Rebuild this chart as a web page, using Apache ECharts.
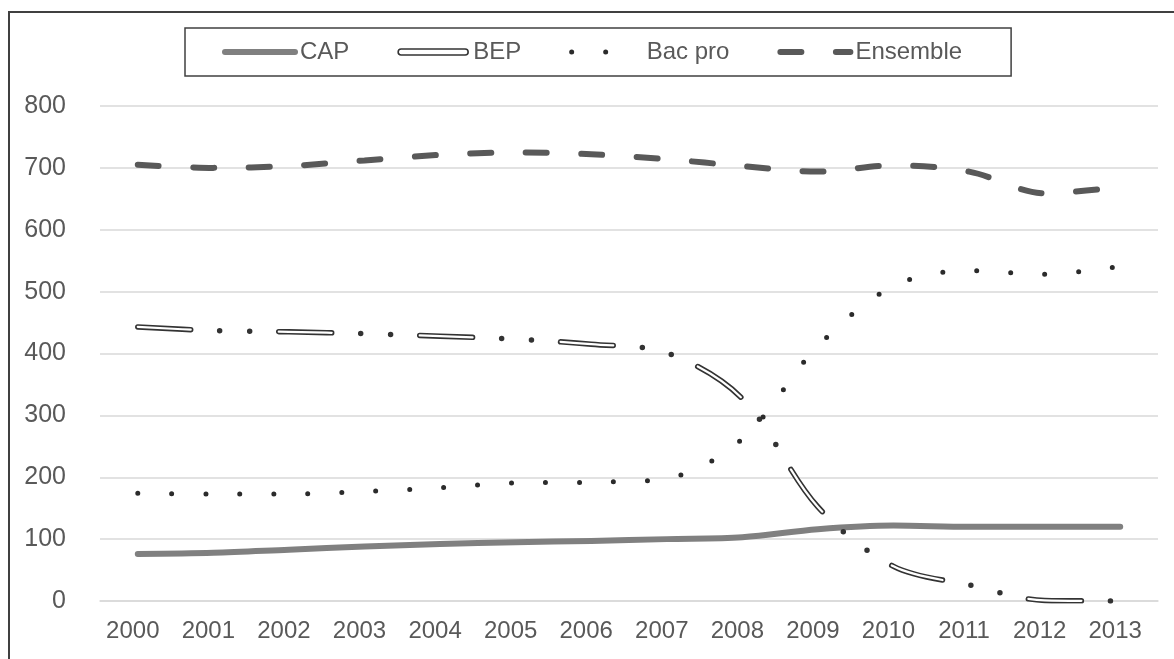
<!DOCTYPE html>
<html>
<head>
<meta charset="utf-8">
<script src="https://cdn.jsdelivr.net/npm/echarts@6/dist/echarts.min.js"></script>
<style>
html,body{margin:0;padding:0;background:#fff;}
#c{width:1174px;height:659px;}
</style>
</head>
<body>
<div id="c"></div>
<script>
var years = ['2000','2001','2002','2003','2004','2005','2006','2007','2008','2009','2010','2011','2012','2013'];
var cap = [76, 78, 83, 88, 92, 95, 97, 100, 103, 116, 122, 120, 120, 120];
var bep = [443, 437, 435, 432, 428, 423, 415, 401, 327, 152, 56, 26, 1, 0];
var bacpro = [174, 173, 173, 177, 183, 191, 192, 198, 262, 412, 509, 534, 528, 541];
var ensemble = [705, 700, 703, 712, 721, 725, 722, 714, 703, 694, 704, 694, 659, 669];
var yTicks = [0, 100, 200, 300, 400, 500, 600, 700, 800];

var FONT = "'Liberation Sans','Arial',sans-serif";
var TXT = '#595959';
var SM = 0.33;

var chart = echarts.init(document.getElementById('c'), null, {renderer:'canvas'});
chart.setOption({
  animation: false,
  backgroundColor: '#fff',
  graphic: [{
    type: 'rect', z: -10, silent: true,
    shape: {x: 9, y: 12, width: 1200, height: 700},
    style: {fill: 'none', stroke: '#404040', lineWidth: 2}
  }],
  legend: {
    left: 185, top: 28,
    padding: [9, 49, 9, 37],
    borderColor: '#404040', borderWidth: 1.5,
    itemWidth: 70, itemHeight: 14, itemGap: 48,
    selectedMode: false,
    itemStyle: {opacity: 0},
    textStyle: {fontFamily: FONT, fontSize: 24, color: TXT, lineHeight: 30},
    data: [
      {name: 'CAP', lineStyle: {color: '#808080', width: 6, cap: 'round', type: 'solid'}},
      {name: 'BEP', icon: 'path://M3,0 L67,0 A3,3 0 0 1 67,6 L3,6 A3,3 0 0 1 3,0 Z',
        itemStyle: {opacity: 1, color: '#ffffff', borderColor: '#333333', borderWidth: 1.6}},
      {name: 'Bac pro', lineStyle: {color: '#2b2b2b', width: 5, cap: 'round', type: [0, 34, 0, 200]}},
      {name: 'Ensemble', lineStyle: {color: '#595959', width: 6, cap: 'round', type: [21, 34.5]}}
    ]
  },
  grid: {left: 100, right: 16, top: 106, bottom: 58, containLabel: false},
  xAxis: {
    type: 'category', data: years, boundaryGap: true,
    axisLine: {lineStyle: {color: '#d9d9d9', width: 1.5}},
    axisTick: {show: false},
    axisLabel: {interval: 0, fontFamily: FONT, fontSize: 24, color: TXT, margin: 18, padding: [0, 10, 0, 0]}
  },
  yAxis: {
    type: 'value', min: yTicks[0], max: yTicks[yTicks.length - 1], interval: 100,
    axisLine: {show: false}, axisTick: {show: false},
    splitLine: {lineStyle: {color: '#d9d9d9', width: 1.5}},
    axisLabel: {fontFamily: FONT, fontSize: 25, color: TXT, margin: 34}
  },
  series: [
    {name: 'CAP', type: 'line', data: cap, smooth: SM, symbol: 'none', z: 2,
      lineStyle: {color: '#808080', width: 6, cap: 'round', join: 'round'}, itemStyle: {color: '#808080'}},
    {name: 'BEP', type: 'line', data: bep, smooth: SM, symbol: 'none', z: 3,
      lineStyle: {color: '#333333', width: 5.5, cap: 'round', join: 'round', type: [53, 29, 0, 30, 0, 29]},
      itemStyle: {color: '#333333'}},
    {name: 'BEP_inner', type: 'line', data: bep, smooth: SM, symbol: 'none', z: 4,
      lineStyle: {color: '#ffffff', width: 2.2, cap: 'round', join: 'round', type: [53, 88]},
      itemStyle: {color: '#ffffff'}},
    {name: 'Bac pro', type: 'line', data: bacpro, smooth: SM, symbol: 'none', z: 5,
      lineStyle: {color: '#2b2b2b', width: 5, cap: 'round', type: [0, 34]}, itemStyle: {color: '#2b2b2b'}},
    {name: 'Ensemble', type: 'line', data: ensemble, smooth: SM, symbol: 'none', z: 6,
      lineStyle: {color: '#595959', width: 6, cap: 'round', type: [21, 34.5]}, itemStyle: {color: '#595959'}}
  ]
});
</script>
</body>
</html>
